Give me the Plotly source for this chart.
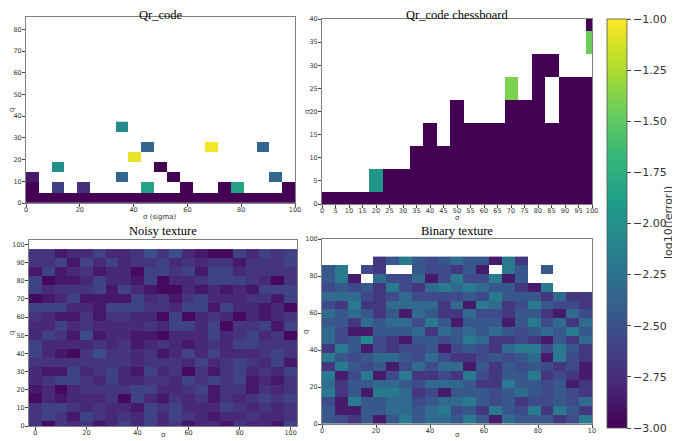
import plotly.graph_objects as go

N = None

# ---------------- Qr_code ----------------
qr_sigma = [2.38, 7.14, 11.9, 16.67, 21.43, 26.19, 30.95, 35.71, 40.48, 45.24, 50.0,
            54.76, 59.52, 64.29, 69.05, 73.81, 78.57, 83.33, 88.1, 92.86, 97.62]
qr_q = [2.34, 7.02, 11.7, 16.38, 21.06, 25.74, 30.42, 35.1]
qr_z = [
    [-3.0, -3.0, -3.0, -3.0, -3.0, -3.0, -3.0, -3.0, -3.0, -3.0, -3.0, -3.0, -3.0, -3.0, -3.0, -3.0, -3.0, -3.0, -3.0, -3.0, -3.0],
    [-3.0, N, -2.62, N, -2.72, N, N, N, N, -1.85, N, N, -3.0, N, N, -3.0, -1.85, N, N, N, -3.0],
    [-2.85, N, N, N, N, N, N, -2.35, N, N, N, -3.0, N, N, N, N, N, N, N, -2.35, N],
    [N, N, -2.0, N, N, N, N, N, N, N, -3.0, N, N, N, N, N, N, N, N, N, N],
    [N, N, N, N, N, N, N, N, -1.07, N, N, N, N, N, N, N, N, N, N, N, N],
    [N, N, N, N, N, N, N, N, N, -2.35, N, N, N, N, -1.03, N, N, N, -2.35, N, N],
    [N, N, N, N, N, N, N, N, N, N, N, N, N, N, N, N, N, N, N, N, N],
    [N, N, N, N, N, N, N, -2.05, N, N, N, N, N, N, N, N, N, N, N, N, N],
]

# ---------------- Qr_code chessboard ----------------
cb_sigma = [0, 5, 10, 15, 20, 25, 30, 35, 40, 45, 50, 55, 60, 65, 70, 75, 80, 85, 90, 95, 100]
cb_q = [0, 5, 10, 15, 20, 25, 30, 35, 40]
cb_z = [
    [-3.0, -3.0, -3.0, -3.0, -3.0, -3.0, -3.0, -3.0, -3.0, -3.0, -3.0, -3.0, -3.0, -3.0, -3.0, -3.0, -3.0, -3.0, -3.0, -3.0, -3.0],
    [N, N, N, N, -1.95, -3.0, -3.0, -3.0, -3.0, -3.0, -3.0, -3.0, -3.0, -3.0, -3.0, -3.0, -3.0, -3.0, -3.0, -3.0, -3.0],
    [N, N, N, N, N, N, N, -3.0, -3.0, -3.0, -3.0, -3.0, -3.0, -3.0, -3.0, -3.0, -3.0, -3.0, -3.0, -3.0, -3.0],
    [N, N, N, N, N, N, N, N, -3.0, N, -3.0, -3.0, -3.0, -3.0, -3.0, -3.0, -3.0, -3.0, -3.0, -3.0, -3.0],
    [N, N, N, N, N, N, N, N, N, N, -3.0, N, N, N, -3.0, -3.0, -3.0, N, -3.0, -3.0, -3.0],
    [N, N, N, N, N, N, N, N, N, N, N, N, N, N, -1.4, N, -3.0, N, -3.0, -3.0, -3.0],
    [N, N, N, N, N, N, N, N, N, N, N, N, N, N, N, N, -3.0, -3.0, N, N, N],
    [N, N, N, N, N, N, N, N, N, N, N, N, N, N, N, N, N, N, N, N, -1.45],
    [N, N, N, N, N, N, N, N, N, N, N, N, N, N, N, N, N, N, N, N, -3.0],
]

# ---------------- Noisy texture ----------------
nz_sigma = [0, 5, 10, 15, 20, 25, 30, 35, 40, 45, 50, 55, 60, 65, 70, 75, 80, 85, 90, 95, 100]
nz_q = [0, 5, 10, 15, 20, 25, 30, 35, 40, 45, 50, 55, 60, 65, 70, 75, 80, 85, 90, 95]
nz_z = [
    [-2.7, -2.95, -2.7, -2.78, -2.7, -2.87, -2.78, -2.6, -2.78, -2.6, -2.78, -2.7, -2.87, -2.78, -2.78, -2.87, -2.7, -2.78, -2.78, -2.87, -2.6],
    [-2.7, -2.6, -2.7, -2.87, -2.6, -2.7, -2.78, -2.7, -2.78, -2.6, -2.78, -2.6, -2.7, -2.78, -2.87, -2.78, -2.78, -2.7, -2.78, -2.78, -2.7],
    [-2.7, -2.6, -2.6, -2.7, -2.78, -2.7, -2.78, -2.78, -2.87, -2.6, -2.7, -2.6, -2.78, -2.78, -2.78, -2.6, -2.7, -2.78, -2.7, -2.78, -2.7],
    [-2.95, -2.78, -2.87, -2.78, -2.78, -2.78, -2.7, -2.95, -2.6, -2.78, -2.87, -2.7, -2.78, -2.7, -2.87, -2.7, -2.78, -2.7, -2.6, -2.7, -2.6],
    [-2.87, -2.78, -2.95, -2.78, -2.7, -2.7, -2.7, -2.7, -2.6, -2.6, -2.78, -2.78, -2.7, -2.6, -2.87, -2.7, -2.7, -2.87, -2.7, -2.78, -2.7],
    [-2.78, -2.7, -2.6, -2.6, -2.7, -2.78, -2.6, -2.78, -2.78, -2.7, -2.7, -2.78, -2.6, -2.7, -2.6, -2.7, -2.6, -2.87, -2.78, -2.87, -2.7],
    [-2.78, -2.87, -2.87, -2.6, -2.78, -2.7, -2.6, -2.78, -2.87, -2.6, -2.78, -2.7, -2.95, -2.7, -2.87, -2.7, -2.6, -2.78, -2.7, -2.78, -2.6],
    [-2.7, -2.7, -2.7, -2.7, -2.7, -2.7, -2.7, -2.7, -2.78, -2.7, -2.7, -2.7, -2.78, -2.6, -2.78, -2.7, -2.6, -2.7, -2.78, -2.6, -2.87],
    [-2.6, -2.78, -2.87, -2.95, -2.7, -2.52, -2.7, -2.7, -2.78, -2.7, -2.87, -2.78, -2.6, -2.78, -2.6, -2.78, -2.78, -2.78, -2.7, -2.6, -2.7],
    [-2.6, -2.78, -2.78, -2.78, -2.78, -2.7, -2.78, -2.7, -2.87, -2.78, -2.7, -2.78, -2.87, -2.78, -2.7, -2.78, -2.6, -2.6, -2.7, -2.7, -2.7],
    [-2.78, -2.6, -2.7, -2.87, -2.52, -2.87, -2.78, -2.78, -2.87, -2.87, -2.95, -2.78, -2.78, -2.78, -2.6, -2.78, -2.7, -2.6, -2.78, -2.7, -2.95],
    [-2.78, -2.78, -2.6, -2.78, -2.7, -2.78, -2.78, -2.78, -2.78, -2.7, -2.78, -2.6, -2.6, -2.78, -2.6, -2.95, -2.7, -2.7, -2.6, -2.87, -2.6],
    [-2.7, -2.78, -2.87, -2.87, -2.7, -2.87, -2.7, -2.7, -2.78, -2.78, -2.95, -2.6, -2.95, -2.78, -2.7, -2.78, -2.95, -2.78, -2.87, -2.78, -2.7],
    [-2.6, -2.6, -2.6, -2.78, -2.78, -2.87, -2.6, -2.6, -2.6, -2.7, -2.7, -2.78, -2.6, -2.6, -2.87, -2.6, -2.78, -2.78, -2.87, -2.78, -2.95],
    [-2.95, -2.87, -2.78, -2.6, -2.87, -2.87, -2.87, -2.87, -2.6, -2.78, -2.7, -2.87, -2.7, -2.6, -2.78, -2.78, -2.78, -2.7, -2.7, -2.87, -2.6],
    [-2.6, -2.78, -2.7, -2.7, -2.7, -2.6, -2.87, -2.6, -2.78, -2.87, -2.95, -2.95, -2.78, -2.87, -2.78, -2.87, -2.78, -2.87, -2.6, -2.6, -2.6],
    [-2.6, -2.95, -2.87, -2.87, -2.78, -2.6, -2.78, -2.78, -2.87, -2.6, -2.95, -2.78, -2.78, -2.7, -2.6, -2.6, -2.6, -2.7, -2.78, -2.95, -2.7],
    [-2.87, -2.6, -2.87, -2.78, -2.7, -2.87, -2.78, -2.78, -2.95, -2.6, -2.6, -2.7, -2.6, -2.87, -2.6, -2.6, -2.78, -2.7, -2.7, -2.7, -2.7],
    [-2.7, -2.7, -2.6, -2.87, -2.6, -2.78, -2.6, -2.78, -2.7, -2.7, -2.6, -2.78, -2.7, -2.78, -2.7, -2.7, -2.87, -2.7, -2.7, -2.7, -2.6],
    [-2.7, -2.7, -2.87, -2.78, -2.78, -2.6, -2.78, -2.78, -2.7, -2.52, -2.7, -2.52, -2.78, -2.87, -2.95, -2.95, -2.6, -2.78, -2.6, -2.7, -2.6],
]

# ---------------- Binary texture ----------------
bt_sigma = [2.38, 7.14, 11.9, 16.67, 21.43, 26.19, 30.95, 35.71, 40.48, 45.24, 50.0,
            54.76, 59.52, 64.29, 69.05, 73.81, 78.57, 83.33, 88.1, 92.86, 97.62]
bt_q = [2.38, 7.14, 11.9, 16.67, 21.43, 26.19, 30.95, 35.71, 40.48, 45.24, 50.0,
        54.76, 59.52, 64.29, 69.05, 73.81, 78.57, 83.33, 88.1]
bt_z = [
    [-2.45, -2.55, -2.68, -2.45, -2.85, -2.45, -2.18, -2.45, -2.32, -2.32, -2.45, -2.18, -2.45, -2.85, -2.32, -2.45, -2.45, -2.45, -2.68, -2.55, -2.18],
    [-2.45, -2.85, -2.85, -2.45, -2.45, -2.32, -2.32, -2.45, -2.32, -2.18, -2.55, -2.45, -2.68, -2.18, -2.45, -2.55, -2.18, -2.68, -2.18, -2.45, -2.68],
    [-2.55, -2.85, -2.18, -2.45, -2.45, -2.32, -2.32, -2.55, -2.45, -2.32, -2.32, -2.18, -2.45, -2.55, -2.45, -2.68, -2.55, -2.55, -2.45, -2.55, -2.32],
    [-2.18, -2.68, -2.45, -2.85, -2.18, -2.18, -2.32, -2.68, -2.55, -2.85, -2.45, -2.45, -2.45, -2.55, -2.45, -2.32, -2.45, -2.55, -2.45, -2.55, -2.68],
    [-2.32, -2.68, -2.45, -2.45, -2.32, -2.32, -2.45, -2.55, -2.32, -2.32, -2.32, -2.45, -2.68, -2.68, -2.18, -2.45, -2.45, -2.55, -2.45, -2.85, -2.68],
    [-2.18, -2.85, -2.55, -2.18, -2.85, -2.55, -2.18, -2.68, -2.68, -2.55, -2.68, -2.18, -2.55, -2.68, -2.45, -2.45, -2.18, -2.68, -2.55, -2.68, -2.85],
    [-2.68, -2.18, -2.45, -2.55, -2.45, -2.85, -2.55, -2.32, -2.55, -2.32, -2.32, -2.85, -2.45, -2.68, -2.45, -2.55, -2.45, -2.55, -2.68, -2.55, -2.85],
    [-2.18, -2.45, -2.55, -2.45, -2.32, -2.32, -2.45, -2.55, -2.32, -2.55, -2.68, -2.68, -2.55, -2.45, -2.55, -2.45, -2.32, -2.85, -2.18, -2.55, -2.68],
    [-2.68, -2.18, -2.45, -2.85, -2.55, -2.68, -2.55, -2.55, -2.45, -2.85, -2.55, -2.45, -2.55, -2.68, -2.32, -2.18, -2.18, -2.55, -2.18, -2.45, -2.68],
    [-2.32, -2.55, -2.45, -2.05, -2.55, -2.68, -2.85, -2.45, -2.45, -2.55, -2.45, -2.18, -2.32, -2.68, -2.68, -2.55, -2.68, -2.85, -2.45, -2.68, -2.32],
    [-2.32, -2.55, -2.85, -2.85, -2.45, -2.45, -2.45, -2.32, -2.68, -2.32, -2.45, -2.32, -2.45, -2.32, -2.45, -2.55, -2.45, -2.32, -2.45, -2.18, -2.45],
    [-2.45, -2.45, -2.68, -2.32, -2.45, -2.32, -2.32, -2.55, -2.18, -2.45, -2.85, -2.45, -2.45, -2.45, -2.85, -2.45, -2.18, -2.55, -2.32, -2.68, -2.32],
    [-2.32, -2.45, -2.32, -2.45, -2.68, -2.45, -2.85, -2.32, -2.45, -2.68, -2.68, -2.32, -2.55, -2.55, -2.68, -2.45, -2.45, -2.68, -2.85, -2.32, -2.55],
    [-2.55, -2.68, -2.18, -2.68, -2.68, -2.32, -2.32, -2.32, -2.32, -2.68, -2.32, -2.85, -2.18, -2.32, -2.68, -2.55, -2.18, -2.45, -2.55, -2.55, -2.68],
    [-2.32, -2.32, -2.32, -2.55, -2.68, -2.55, -2.32, -2.55, -2.55, -2.55, -2.55, -2.45, -2.55, -2.18, -2.45, -2.45, -2.45, -2.68, -2.32, -2.68, -2.68],
    [-2.55, -2.45, -2.55, -2.45, -2.68, -2.18, -2.55, -2.68, -2.32, -2.18, -2.32, -2.18, -2.32, -2.45, -2.45, -2.68, -2.85, -2.18, N, N, N],
    [-2.45, -2.18, -2.85, N, -2.32, -2.55, -2.55, -2.32, -2.85, -2.55, -2.18, -2.55, -2.55, -2.18, -2.85, -2.45, N, N, N, N, N],
    [-2.45, -2.18, N, -2.55, -2.68, N, N, -2.45, -2.55, -2.55, -2.68, -2.45, -2.85, N, -2.18, -2.45, N, -2.45, N, N, N],
    [N, N, N, N, -2.68, -2.45, -2.18, -2.45, -2.55, -2.45, -2.32, -2.45, -2.45, -2.85, -2.18, -2.68, N, N, N, N, N],
]

# ---------------- ticks ----------------
qr_xticks = [0, 20, 40, 60, 80, 100]
qr_yticks = [0, 10, 20, 30, 40, 50, 60, 70, 80]
cb_xticks = [0, 5, 10, 15, 20, 25, 30, 35, 40, 45, 50, 55, 60, 65, 70, 75, 80, 85, 90, 95, 100]
cb_yticks = [0, 5, 10, 15, 20, 25, 30, 35, 40]
nz_xticks = [0, 20, 40, 60, 80, 100]
nz_yticks = [0, 10, 20, 30, 40, 50, 60, 70, 80, 90, 100]
bt_xticks = [0, 20, 40, 60, 80, 100]
bt_xticktext = ["0", "20", "40", "60", "80", "10"]
bt_yticks = [0, 20, 40, 60, 80, 100]
cbar_ticks = [-3.0, -2.75, -2.5, -2.25, -2.0, -1.75, -1.5, -1.25, -1.0]

# The page body keeps the browser's default 8 px margin, so the figure is
# drawn 8 px smaller and all pixel positions are shifted by that offset.
OFF = 8
W, H = 680 - OFF, 441 - OFF

fig = go.Figure()
for x, y, z, xa, ya in [
    (qr_sigma, qr_q, qr_z, "x", "y"),
    (cb_sigma, cb_q, cb_z, "x2", "y2"),
    (nz_sigma, nz_q, nz_z, "x3", "y3"),
    (bt_sigma, bt_q, bt_z, "x4", "y4"),
]:
    fig.add_trace(go.Heatmap(x=x, y=y, z=z, xaxis=xa, yaxis=ya,
                             coloraxis="coloraxis", hoverongaps=False))


def px_x(a):
    return (a - OFF) / W


def px_y(b):
    return 1 - (b - OFF) / H


def xd(a, b):
    return [px_x(a), px_x(b)]


def yd(top, bottom):
    return [px_y(bottom), px_y(top)]


tickfont = dict(size=6.5, color="#333333", family="DejaVu Sans")
common = dict(showline=True, mirror=True, linecolor="#808080", linewidth=1,
              ticks="outside", ticklen=3, tickwidth=0.8, tickcolor="#444444",
              tickfont=tickfont, showgrid=False, zeroline=False,
              automargin=False, tickangle=0)
xcommon = dict(common, ticklabelstandoff=-3)
ycommon = dict(common, ticklabelstandoff=-1)

fig.update_layout(
    template="none",
    width=W, height=H, autosize=False,
    margin=dict(l=0, r=0, t=0, b=0, pad=0, autoexpand=False),
    paper_bgcolor="white", plot_bgcolor="white",
    showlegend=False,
    xaxis=dict(domain=xd(26, 295), range=[0, 100], tickvals=qr_xticks, anchor="y", **xcommon),
    yaxis=dict(domain=yd(17, 203), range=[0, 85.7], tickvals=qr_yticks, anchor="x", **ycommon),
    xaxis2=dict(domain=xd(322, 592), range=[0, 100], tickvals=cb_xticks, anchor="y2", **xcommon),
    yaxis2=dict(domain=yd(19, 204), range=[0, 40], tickvals=cb_yticks, anchor="x2", **ycommon),
    xaxis3=dict(domain=xd(29, 297), range=[-2.5, 102.5], tickvals=nz_xticks, anchor="y3", **xcommon),
    yaxis3=dict(domain=yd(240, 426), range=[0, 102.5], tickvals=nz_yticks, anchor="x3", **ycommon),
    xaxis4=dict(domain=xd(322, 592), range=[0, 100], tickvals=bt_xticks,
                ticktext=bt_xticktext, anchor="y4", **xcommon),
    yaxis4=dict(domain=yd(239, 424), range=[0, 100], tickvals=bt_yticks, anchor="x4", **ycommon),
    coloraxis=dict(
        colorscale="Viridis", cmin=-3, cmax=-1,
        colorbar=dict(
            x=px_x(607), xanchor="left", y=px_y(19), yanchor="top",
            len=409 / H, lenmode="fraction", thickness=20, thicknessmode="pixels",
            xpad=0, ypad=0,
            outlinewidth=0.8, outlinecolor="#555555",
            tickvals=cbar_ticks, tickformat=".2f", ticks="outside", ticklen=4,
            tickcolor="#444444", tickfont=dict(size=11, color="#333333", family="DejaVu Sans"),
        ),
    ),
)

label_font = dict(size=7, color="#333333", family="DejaVu Sans")
# (text, x px, y px, angle)
axis_labels = [
    ("σ (sigma)", 160, 217, 0), ("q", 12, 110, -90),
    ("σ", 457, 218, 0), ("q", 307, 112, -90),
    ("σ", 163, 435, 0), ("q", 12, 333, -90),
    ("σ", 457, 435, 0), ("q", 306, 332, -90),
]
for text, px, py, ang in axis_labels:
    fig.add_annotation(text=text, x=px_x(px), y=px_y(py), xref="paper", yref="paper",
                       xanchor="center", yanchor="middle", showarrow=False,
                       textangle=ang, font=label_font)

fig.add_annotation(text="log10(|error|)", x=px_x(668), y=px_y(223), xref="paper", yref="paper",
                   xanchor="center", yanchor="middle", showarrow=False, textangle=-90,
                   font=dict(size=11, color="#333333", family="DejaVu Sans"))

titles = [("Qr_code", 160, 15), ("Qr_code chessboard", 457, 15),
          ("Noisy texture", 163, 231), ("Binary texture", 457, 231)]
for text, px, py in titles:
    fig.add_annotation(text=text, x=px_x(px), y=px_y(py), xref="paper", yref="paper",
                       xanchor="center", yanchor="middle", showarrow=False,
                       font=dict(size=12.5, color="black", family="Liberation Serif"))

fig.write_html("out.html")
